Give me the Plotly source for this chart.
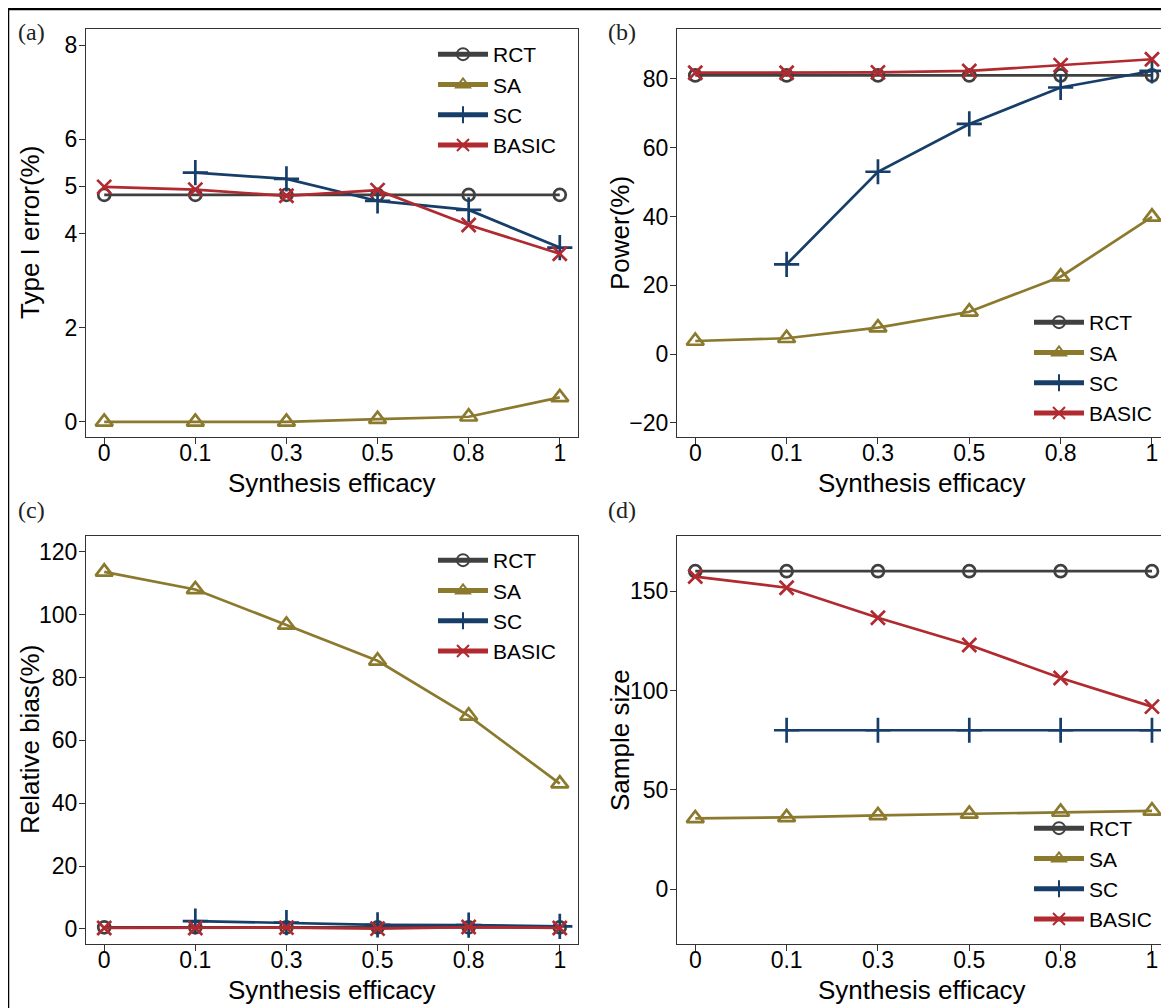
import plotly.graph_objects as go

# ---------------- data ----------------
x_labels = ["0", "0.1", "0.3", "0.5", "0.8", "1"]
methods = ["RCT", "SA", "SC", "BASIC"]

type1_rct = [4.82, 4.82, 4.82, 4.82, 4.82, 4.82]
type1_sa = [0.0, 0.0, 0.0, 0.06, 0.11, 0.52]
type1_sc = [None, 5.29, 5.16, 4.69, 4.50, 3.70]
type1_basic = [4.99, 4.93, 4.80, 4.92, 4.18, 3.57]

power_rct = [81.0, 81.0, 81.0, 81.0, 81.0, 81.0]
power_sa = [3.8, 4.6, 7.7, 12.3, 22.5, 39.9]
power_sc = [None, 26.1, 53.0, 66.9, 77.5, 82.3]
power_basic = [81.8, 81.8, 81.9, 82.3, 84.0, 85.7]

bias_rct = [0.5, 0.5, 0.5, 0.5, 0.5, 0.5]
bias_sa = [113.6, 108.0, 96.7, 85.3, 67.8, 46.2]
bias_sc = [None, 2.5, 2.0, 1.3, 1.2, 0.8]
bias_basic = [0.3, 0.3, 0.4, 0.1, 0.6, 0.3]

size_rct = [160, 160, 160, 160, 160, 160]
size_sa = [35.7, 36.2, 37.2, 37.9, 38.9, 39.5]
size_sc = [None, 80, 80, 80, 80, 80]
size_basic = [157.3, 151.7, 136.6, 122.9, 106.3, 91.9]

type1_ticks = [0, 2, 4, 5, 6, 8]
power_ticks = [-20, 0, 20, 40, 60, 80]
bias_ticks = [0, 20, 40, 60, 80, 100, 120]
size_ticks = [0, 50, 100, 150]

# ---------------- styling ----------------
# the page body has an 8px margin, so reference pixel p maps to figure pixel p - OFF
OFF = 8
W, H = 1169 - OFF, 1008 - OFF
colors = {"RCT": "#404040", "SA": "#8b7a2e", "SC": "#163e69", "BASIC": "#b02a30"}
symbols = {"RCT": "circle-open", "SA": "triangle-up-open", "SC": "cross-thin-open", "BASIC": "x-thin-open"}
msizes = {"RCT": 12, "SA": 15, "SC": 18, "BASIC": 14}
FONT = "Liberation Sans, Arial, sans-serif"


def px_x(p):
    return (p - OFF) / W


def px_y(p):
    return 1 - (p - OFF) / H


panels = [
    # data, ticks, yrange, xdomain(px), ydomain(px top,bottom), legend(px x, y top), ytitle, label
    ([type1_rct, type1_sa, type1_sc, type1_basic], type1_ticks, [-0.32, 8.34],
     (86, 578), (29, 437), (433, 34), "Type I error(%)", "(a)"),
    ([power_rct, power_sa, power_sc, power_basic], power_ticks, [-24.1, 94.5],
     (677, 1167.5), (29, 437), (1029, 302), "Power(%)", "(b)"),
    ([bias_rct, bias_sa, bias_sc, bias_basic], bias_ticks, [-4.8, 125.0],
     (86, 578), (536, 944), (433, 540), "Relative bias(%)", "(c)"),
    ([size_rct, size_sa, size_sc, size_basic], size_ticks, [-27.5, 177.7],
     (677, 1167.5), (536, 944), (1029, 808), "Sample size", "(d)"),
]

fig = go.Figure()
layout = dict(
    width=W, height=H,
    margin=dict(l=0, r=0, t=0, b=0),
    paper_bgcolor="white", plot_bgcolor="white",
    font=dict(family=FONT, color="black", size=22),
    showlegend=True,
)
annotations = []

for i, (series, ticks, yr, xd, yd, lg, ytitle, label) in enumerate(panels):
    n = i + 1
    xa = "x" if n == 1 else f"x{n}"
    ya = "y" if n == 1 else f"y{n}"
    lname = "legend" if n == 1 else f"legend{n}"
    for m, vals in zip(methods, series):
        fig.add_trace(go.Scatter(
            x=x_labels, y=vals, name=m, mode="lines+markers",
            xaxis=xa, yaxis=ya, legend=lname,
            line=dict(color=colors[m], width=2.7),
            marker=dict(symbol=symbols[m], size=msizes[m], color=colors[m],
                        line=dict(color=colors[m], width=2.7)),
            connectgaps=False,
        ))
    axis_common = dict(showline=True, mirror=True, linecolor="#333333", linewidth=1.3,
                       ticks="outside", ticklen=6, tickwidth=1.2, tickcolor="#333333",
                       showgrid=False, zeroline=False,
                       tickfont=dict(family=FONT, size=23, color="black"))
    layout["xaxis" if n == 1 else f"xaxis{n}"] = dict(
        axis_common, type="category", range=[-0.2, 5.2 if n in (1, 3) else 5.17],
        domain=[px_x(xd[0]), px_x(xd[1])], anchor=ya, ticklabelstandoff=-11,
        categoryorder="array", categoryarray=x_labels)
    layout["yaxis" if n == 1 else f"yaxis{n}"] = dict(
        axis_common, range=yr, tickvals=ticks, ticklabelstandoff=-3,
        domain=[px_y(yd[1]), px_y(yd[0])], anchor=xa)
    layout[lname] = dict(x=px_x(lg[0]), y=px_y(lg[1]), xanchor="left", yanchor="top",
                         bgcolor="rgba(0,0,0,0)", borderwidth=0,
                         font=dict(family=FONT, size=21, color="black"),
                         tracegroupgap=0, itemsizing="constant", itemwidth=50)
    # axis titles
    annotations.append(dict(text="Synthesis efficacy", xref="paper", yref="paper",
                            x=px_x((xd[0] + xd[1]) / 2), y=px_y(yd[1] + 46),
                            showarrow=False, xanchor="center", yanchor="middle",
                            font=dict(family=FONT, size=26, color="black")))
    annotations.append(dict(text=ytitle, xref="paper", yref="paper",
                            x=px_x(30 if n in (1, 3) else 620), y=px_y((yd[0] + yd[1]) / 2),
                            showarrow=False, textangle=-90, xanchor="center", yanchor="middle",
                            font=dict(family=FONT, size=26, color="black")))
    annotations.append(dict(text=label, xref="paper", yref="paper",
                            x=px_x(31 if n in (1, 3) else 622),
                            y=px_y(32 if n in (1, 2) else 510),
                            showarrow=False, xanchor="center", yanchor="middle",
                            font=dict(family="Liberation Serif, Times New Roman, serif", size=24,
                                      color="#222222")))

layout["annotations"] = annotations
layout["shapes"] = [dict(type="rect", xref="paper", yref="paper",
                         x0=px_x(8), x1=1.05, y0=-0.05, y1=px_y(9),
                         line=dict(color="black", width=2.5), fillcolor="rgba(0,0,0,0)",
                         layer="above")]
fig.update_layout(**layout)
fig.write_html("out.html")
